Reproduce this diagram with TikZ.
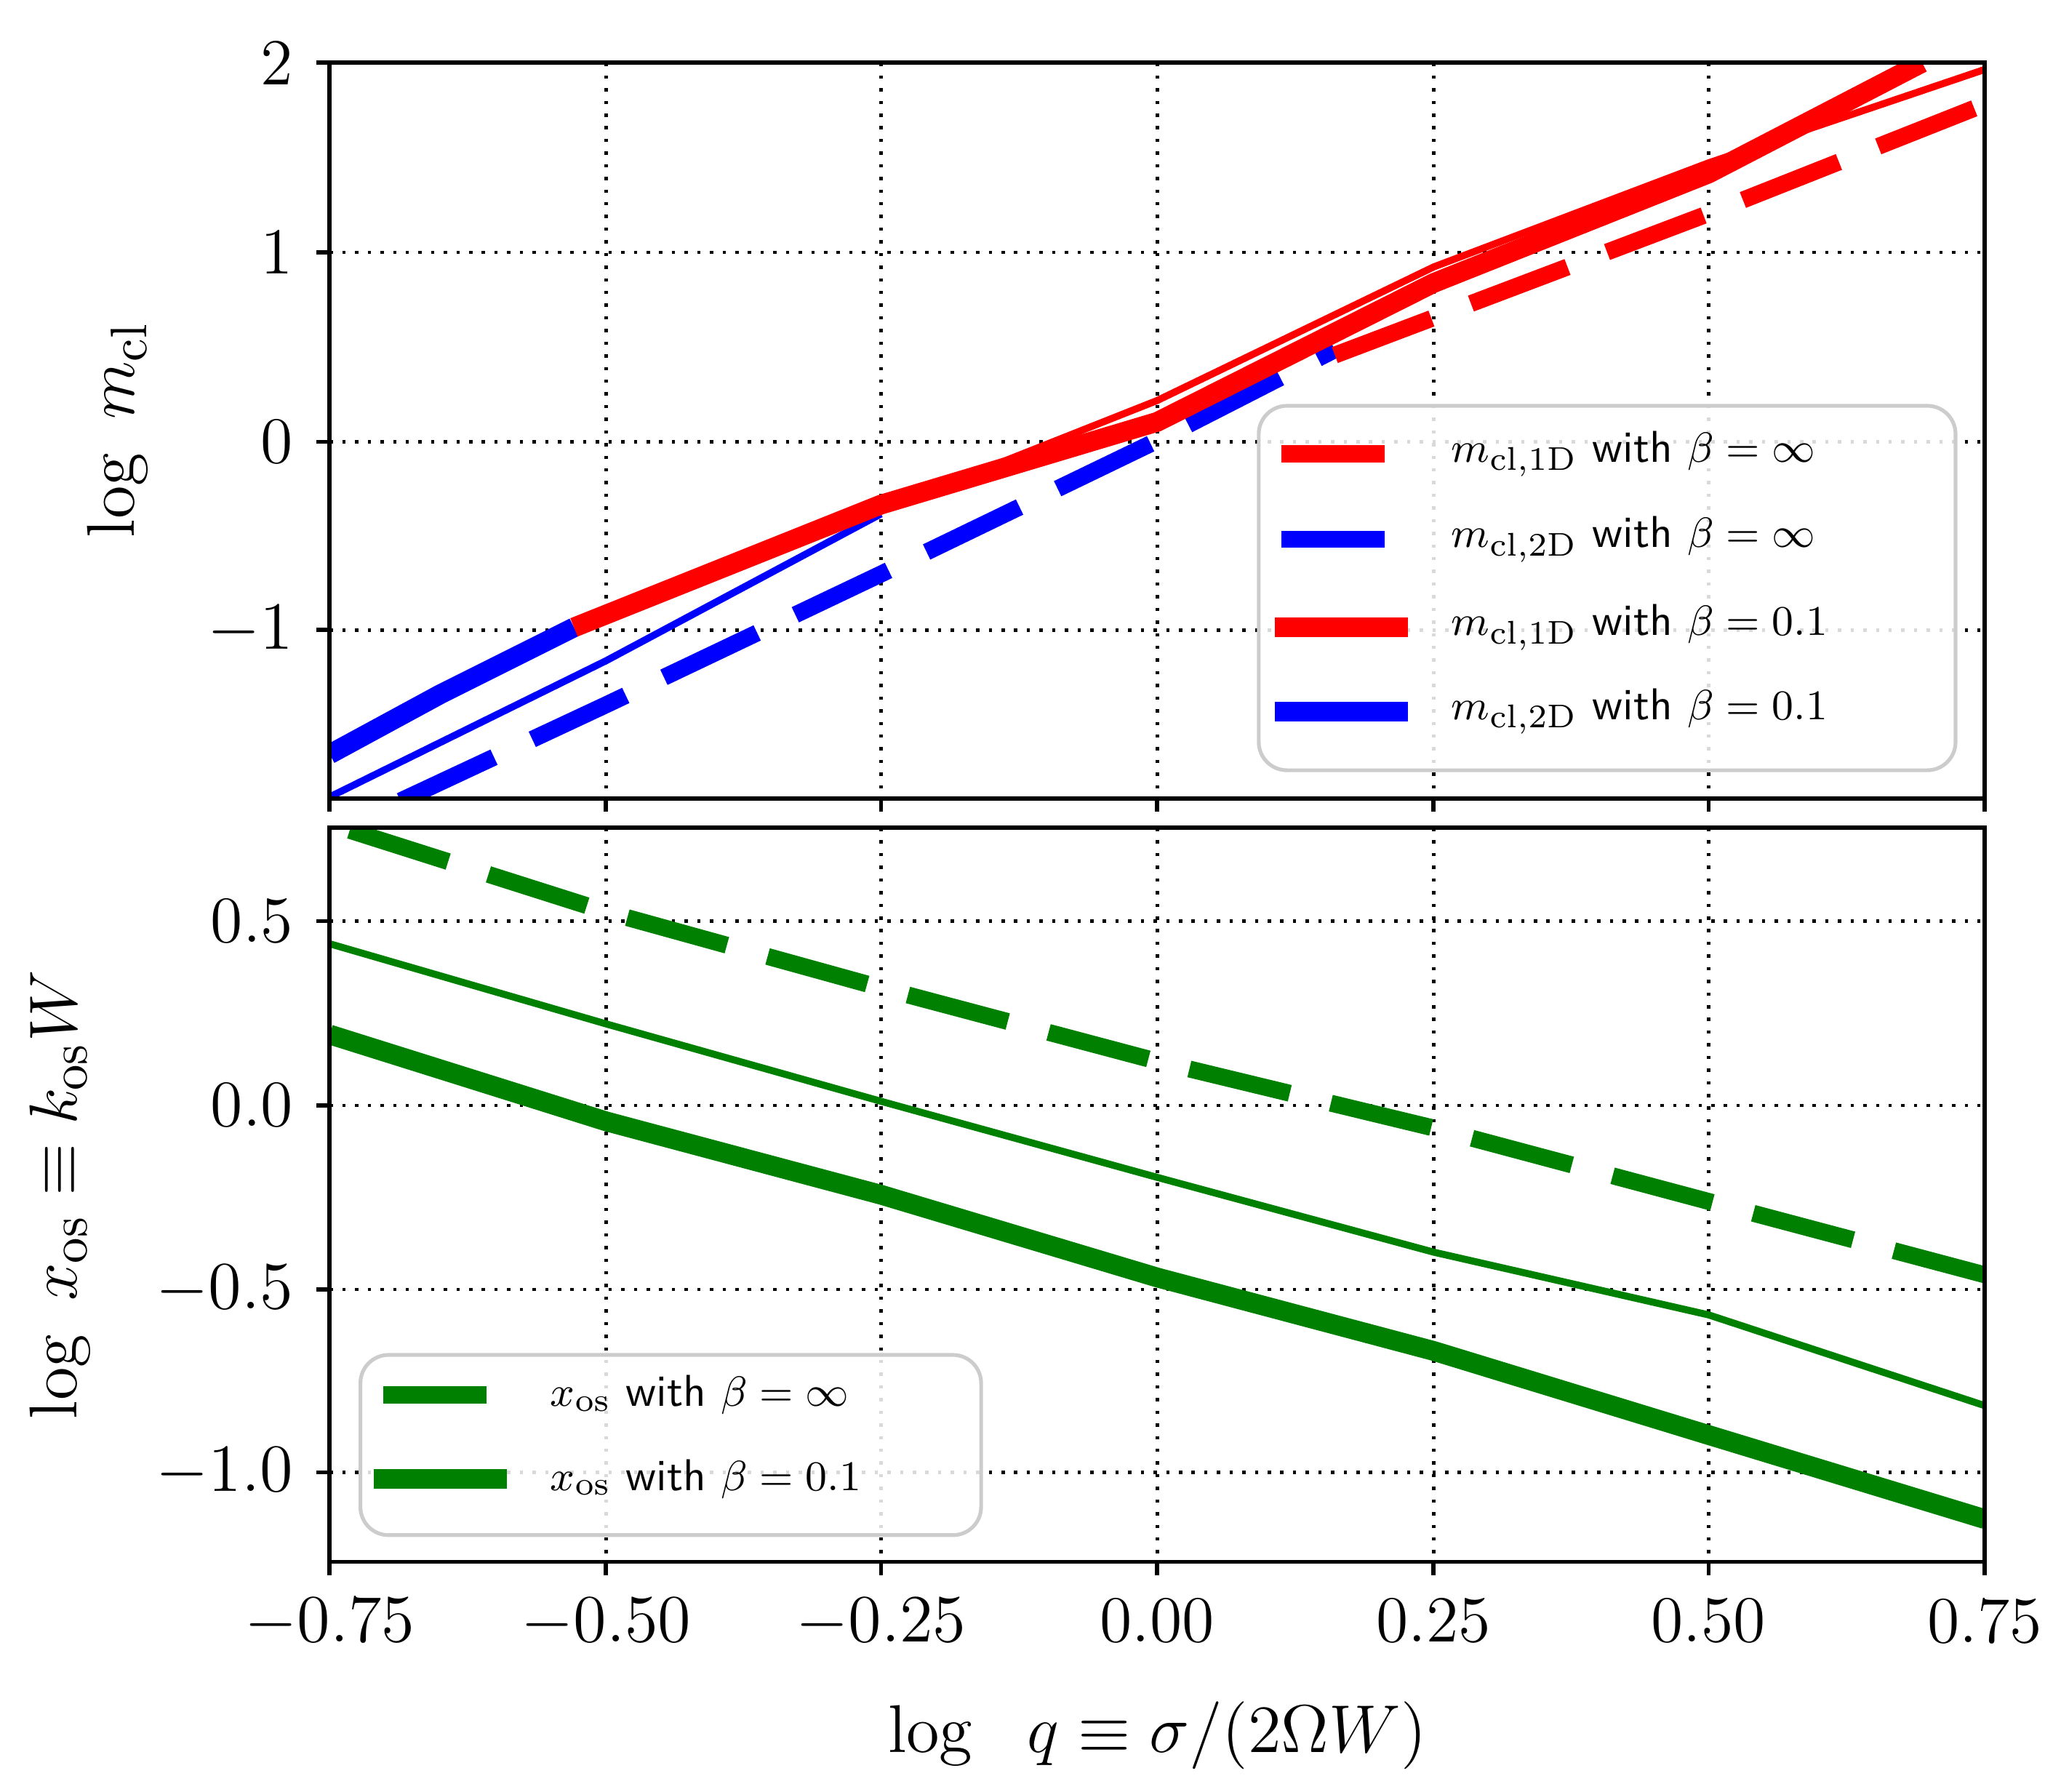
\documentclass[tikz,border=0pt]{standalone}
\begin{document}
\begin{tikzpicture}[x=0.01cm,y=-0.01cm,
  grd/.style={black,dotted,line width=0.7pt},
  ax/.style={black,line width=0.9pt},
  tk/.style={font=\fontsize{14}{16}\selectfont},
  thk/.style={line width=4.2pt},
  thn/.style={line width=1.5pt},
  dsh/.style={line width=3.6pt,dash pattern=on 22pt off 9pt},
  lg/.style={font=\fontsize{9.5}{11}\selectfont,anchor=west}]
\useasboundingbox (0,0) rectangle (1550,1342);
% grids
\foreach \x in {454,660,867,1074,1280}{\draw[grd] (\x,47)--(\x,598); \draw[grd] (\x,620)--(\x,1170);}
\foreach \y in {189,331,472}{\draw[grd] (247,\y)--(1487,\y);}
\foreach \y in {690,828,966,1103}{\draw[grd] (247,\y)--(1487,\y);}
% top curves
\begin{scope}
\clip (247,47) rectangle (1487,598);
\draw[blue,thk] (247,565)--(330,520)--(430,470);
\draw[blue,thn] (247,597)--(454,495)--(660,385);
\draw[blue,dsh] (300,600)--(454,528)--(660,430)--(867,330)--(1000,262);
\draw[red,dsh] (1000,266)--(1074,238)--(1280,160)--(1487,78);
\draw[red,thn] (660,382)--(867,300)--(1074,200)--(1280,122)--(1487,52);
\draw[red,thk] (430,470)--(660,378)--(867,316)--(1074,212)--(1280,130)--(1440,47);
\end{scope}
% bottom curves
\begin{scope}
\clip (247,620) rectangle (1487,1170);
\draw[green!50!black,dsh] (262,622)--(454,683)--(660,740)--(867,795)--(1074,845)--(1280,900)--(1487,955);
\draw[green!50!black,thn] (247,707)--(454,767)--(660,825)--(867,882)--(1074,938)--(1280,985)--(1487,1053);
\draw[green!50!black,thk] (247,775)--(454,840)--(660,895)--(867,957)--(1074,1012)--(1280,1075)--(1487,1138);
\end{scope}
% axes
\draw[ax] (247,47) rectangle (1487,598);
\draw[ax] (247,620) rectangle (1487,1170);
\foreach \y/\l in {47/2,189/1,331/0,472/$-1$}{\draw[ax] (237,\y)--(247,\y); \node[tk,anchor=east] at (232,\y) {\l};}
\foreach \y/\l in {690/0.5,828/0.0,966/$-0.5$,1103/$-1.0$}{\draw[ax] (237,\y)--(247,\y); \node[tk,anchor=east] at (232,\y) {\l};}
\foreach \x/\l in {247/$-0.75$,454/$-0.50$,660/$-0.25$,867/0.00,1074/0.25,1280/0.50,1487/0.75}{
  \draw[ax] (\x,598)--(\x,608); \draw[ax] (\x,1170)--(\x,1180);
  \node[tk,anchor=north] at (\x,1185) {\l};}
\node[font=\fontsize{15}{17}\selectfont,rotate=90] (yl1) at (88,322) {$\log\ m_{\rm cl}$};
\node[font=\fontsize{15}{17}\selectfont,rotate=90] (yl2) at (45,895) {$\log\ x_{\rm os}\equiv k_{\rm os}W$};
\node[font=\fontsize{15}{17}\selectfont] (xl) at (867,1300) {$\log\ \ q\equiv\sigma/(2\Omega W)$};
% top legend
\draw[gray!40,fill=white,fill opacity=0.85,rounded corners=6pt,line width=0.8pt] (943,304) rectangle (1465,577);
\draw[red,dsh,dash pattern=on 22pt off 9pt] (960,340)--(1055,340);
\draw[blue,dsh,dash pattern=on 22pt off 9pt] (960,404)--(1055,404);
\draw[red,thk] (955,470)--(1055,470);
\draw[blue,thk] (955,533)--(1055,533);
\node[lg] (l1) at (1075,340) {$m_{\rm cl,1D}$ \textsf{with} $\beta=\infty$};
\node[lg] (l2) at (1075,404) {$m_{\rm cl,2D}$ \textsf{with} $\beta=\infty$};
\node[lg] (l3) at (1075,470) {$m_{\rm cl,1D}$ \textsf{with} $\beta=0.1$};
\node[lg] (l4) at (1075,533) {$m_{\rm cl,2D}$ \textsf{with} $\beta=0.1$};
% bottom legend
\draw[gray!40,fill=white,fill opacity=0.85,rounded corners=6pt,line width=0.8pt] (270,1015) rectangle (735,1150);
\draw[green!50!black,dsh] (287,1045)--(380,1045);
\draw[green!50!black,thk] (280,1108)--(380,1108);
\node[lg] (l5) at (400,1045) {$x_{\rm os}$ \textsf{with} $\beta=\infty$};
\node[lg] (l6) at (400,1108) {$x_{\rm os}$ \textsf{with} $\beta=0.1$};
\end{tikzpicture}
\end{document}
